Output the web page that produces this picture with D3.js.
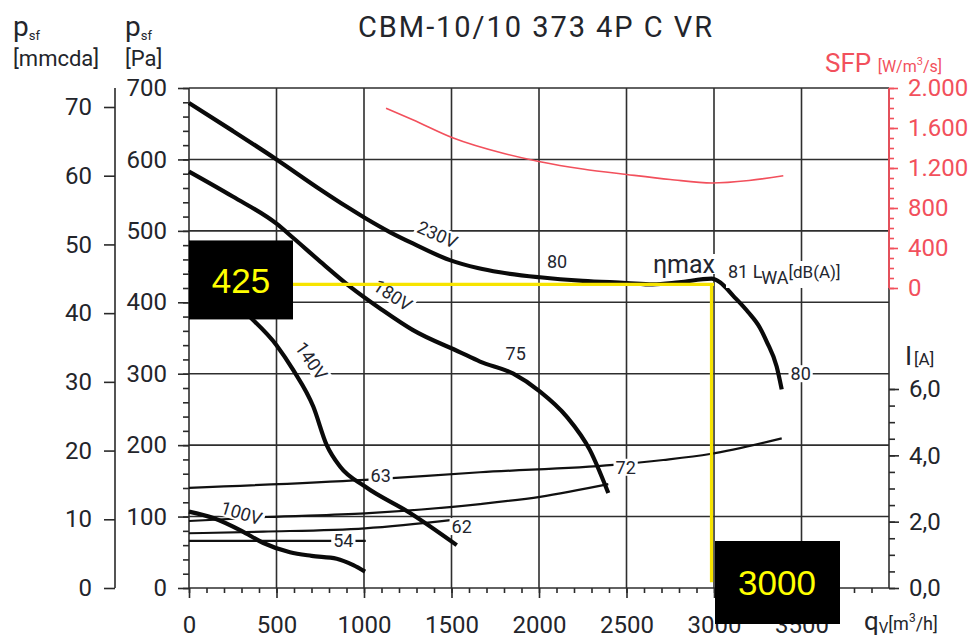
<!DOCTYPE html>
<html lang="en">
<head>
<meta charset="UTF-8">
<title>CBM-10/10 373 4P C VR</title>
<style>
* { margin: 0; padding: 0; }
body { background: #fff; overflow: hidden; }
svg { display: block; font-family: Roboto, "DejaVu Sans", sans-serif; }
.tick text { font-size: 24px; fill: #23252b; font-family: Roboto, sans-serif; }
.tick line { stroke: #2a2a2a; stroke-width: 1.6; }
.sfp-axis .tick line { stroke: #f2505c; }
.sfp-axis .tick text { fill: #f2505c; }
text.curve-label { font-size: 18px; fill: #23262f; }
</style>
</head>
<body>
<svg id="chart" width="974" height="639"></svg>
<script src="https://d3js.org/d3.v7.min.js"></script>
<script>
(function() {
	// tick values
	var qTicks = d3.range(0, 3501, 500);
	var paTicks = d3.range(0, 701, 100);
	var mmTicks = d3.range(0, 71, 10);
	var sfpTicks = [0, 400, 800, 1200, 1600, 2000];
	var ampTicks = [0, 2, 4, 6];

	// static pressure p_sf [Pa] against airflow q_v [m3/h], per supply voltage
	var press230 = [[0, 679], [250, 640], [500, 600], [750, 558], [900, 534], [1006, 518], [1150, 498], [1282, 482],
		[1491, 459], [1650, 448], [1777, 442], [2006, 435], [2250, 430], [2500, 427], [2650, 425], [2800, 428],
		[2986, 433], [3034, 428], [3110, 409], [3196, 386], [3263, 364], [3301, 345], [3358, 310], [3387, 278]];
	var press180 = [[0, 583], [250, 548], [500, 510], [596, 490], [750, 457], [920, 422], [1100, 390], [1280, 361],
		[1550, 330], [1663, 317], [1853, 300], [2006, 275], [2158, 240], [2291, 193], [2396, 133]];
	var press140 = [[0, 445], [200, 415], [330, 384], [500, 340], [596, 305], [710, 254], [787, 200], [863, 170],
		[1006, 142], [1263, 105], [1530, 60]];
	var press100 = [[0, 107], [139, 98], [300, 80], [425, 63], [577, 50], [700, 45], [844, 41], [939, 32], [1006, 23]];

	// current I [A]
	var amp230 = [[0, 3.02], [1006, 3.26], [1663, 3.49], [2425, 3.71], [2710, 3.86], [2977, 4.04], [3387, 4.51]];
	var amp180 = [[0, 2.02], [444, 2.14], [1006, 2.25], [1663, 2.53], [2006, 2.75], [2396, 3.13]];
	var amp140 = [[0, 1.65], [425, 1.70], [1006, 1.80], [1530, 2.07]];
	var amp100 = [[0, 1.42], [1010, 1.42]];

	// SFP [W/m3/s] at 230V
	var sfp230 = [[1126, 1797], [1282, 1680], [1510, 1500], [1800, 1345], [2006, 1263], [2250, 1190], [2501, 1135],
		[2750, 1085], [2990, 1050], [3200, 1075], [3396, 1122]];

	// curve labels (voltage and LwA) in chart units
	var curveLabels = [
		{ text: "230V", q: 1420, p: 495, angle: 24 },
		{ text: "180V", q: 1165, p: 410, angle: 33 },
		{ text: "140V", q: 700, p: 318, angle: 55 },
		{ text: "100V", q: 300, p: 105, angle: 17 },
		{ text: "80", q: 2103, p: 457, angle: 0 },
		{ text: "75", q: 1867, p: 328, angle: 0 },
		{ text: "72", q: 2495, p: 169, angle: 0 },
		{ text: "63", q: 1095, p: 157, angle: 0 },
		{ text: "62", q: 1558, p: 86, angle: 0 },
		{ text: "54", q: 882, p: 66, angle: 0 },
		{ text: "80", q: 3495, p: 300, angle: 0 }
	];

	// selected operating point
	var markQ = 3000;
	var markP = 425;

	var svg = d3.select("#chart");
	var x = d3.scaleLinear().domain([0, 4000]).range([189, 889]);
	var y = d3.scaleLinear().domain([0, 700]).range([588, 88]);
	var yMm = d3.scaleLinear().domain([0, 700 / 9.62]).range([588, 88]);
	var ySfp = d3.scaleLinear().domain([0, 2000]).range([288, 88]);
	var yAmp = d3.scaleLinear().domain([0, 6]).range([588, 389]);

	var loc = d3.formatLocale({ decimal: ",", thousands: ".", grouping: [3], currency: ["", ""] });
	var fmtSfp = loc.format(",d");
	var fmtAmp = loc.format(".1f");

	function cleanAxis(g) {
		g.select(".domain").remove();
		g.attr("font-size", null).attr("font-family", null);
	}

	// grid
	var grid = svg.append("g").attr("stroke", "#2e2e2e").attr("stroke-width", 1.6);
	grid.selectAll("line.h").data(paTicks).join("line").attr("class", "h")
		.attr("x1", x(0)).attr("x2", x(4000)).attr("y1", y).attr("y2", y);
	grid.selectAll("line.v").data(qTicks).join("line").attr("class", "v")
		.attr("x1", x).attr("x2", x).attr("y1", y(700)).attr("y2", y(0));
	grid.append("line").attr("x1", x(4000)).attr("x2", x(4000)).attr("y1", y(700)).attr("y2", y(0));

	// left Pa axis
	svg.append("g").attr("transform", "translate(" + x(0) + ",0)")
		.call(d3.axisLeft(y).tickValues(d3.range(0, 701, 20)).tickSize(6).tickFormat(""))
		.call(cleanAxis);
	svg.append("g").attr("transform", "translate(" + x(0) + ",0)")
		.call(d3.axisLeft(y).tickValues(paTicks).tickSize(11).tickPadding(11).tickFormat(d3.format("d")))
		.call(cleanAxis);

	// left mmcda axis
	var mmAxis = svg.append("g").attr("transform", "translate(115,0)")
		.call(d3.axisLeft(yMm).tickValues(mmTicks).tickSize(11).tickPadding(12))
		.call(cleanAxis);
	mmAxis.append("line").attr("y1", y(700)).attr("y2", y(0))
		.attr("stroke", "#2a2a2a").attr("stroke-width", 1.6);

	// bottom axis
	svg.append("g").attr("transform", "translate(0," + y(0) + ")")
		.call(d3.axisBottom(x).tickValues(d3.range(0, 4000, 100)).tickSize(5).tickFormat(""))
		.call(cleanAxis);
	svg.append("g").attr("transform", "translate(0," + y(0) + ")")
		.call(d3.axisBottom(x).tickValues(qTicks).tickSize(10).tickPadding(18).tickFormat(d3.format("d")))
		.call(cleanAxis);

	// right SFP axis (red)
	svg.append("g").attr("class", "sfp-axis").attr("transform", "translate(" + x(4000) + ",0)")
		.call(d3.axisRight(ySfp).tickValues(d3.range(0, 2001, 100)).tickSize(5).tickFormat(""))
		.call(cleanAxis);
	var sfpAxis = svg.append("g").attr("class", "sfp-axis").attr("transform", "translate(" + x(4000) + ",0)")
		.call(d3.axisRight(ySfp).tickValues(sfpTicks).tickSize(9).tickPadding(10).tickFormat(fmtSfp))
		.call(cleanAxis);
	sfpAxis.append("line").attr("y1", ySfp(2000)).attr("y2", ySfp(0))
		.attr("stroke", "#f2505c").attr("stroke-width", 1.8);

	// right current axis
	svg.append("g").attr("transform", "translate(" + x(4000) + ",0)")
		.call(d3.axisRight(yAmp).tickValues(d3.range(0, 6.01, 0.5)).tickSize(6).tickFormat(""))
		.call(cleanAxis);
	svg.append("g").attr("transform", "translate(" + x(4000) + ",0)")
		.call(d3.axisRight(yAmp).tickValues(ampTicks).tickSize(10).tickPadding(10).tickFormat(fmtAmp))
		.call(cleanAxis);

	// curves
	var lineP = d3.line().x(function(d) { return x(d[0]); }).y(function(d) { return y(d[1]); })
		.curve(d3.curveMonotoneX);
	var lineA = d3.line().x(function(d) { return x(d[0]); }).y(function(d) { return yAmp(d[1]); })
		.curve(d3.curveMonotoneX);
	var lineS = d3.line().x(function(d) { return x(d[0]); }).y(function(d) { return ySfp(d[1]); })
		.curve(d3.curveMonotoneX);

	var curves = svg.append("g").attr("fill", "none").attr("stroke-linejoin", "round");
	[amp230, amp180, amp140, amp100].forEach(function(c) {
		curves.append("path").attr("d", lineA(c)).attr("stroke", "#111").attr("stroke-width", 2.2);
	});
	curves.append("path").attr("d", lineS(sfp230)).attr("stroke", "#f2505c").attr("stroke-width", 1.6);
	[press230, press180, press140, press100].forEach(function(c) {
		curves.append("path").attr("d", lineP(c)).attr("stroke", "#0a0a0a").attr("stroke-width", 4.2);
	});

	// labels with white halo box
	var labels = svg.append("g");
	function addLabel(d) {
		var g = labels.append("g")
			.attr("transform", "translate(" + x(d.q) + "," + y(d.p) + ") rotate(" + d.angle + ")");
		var t = g.append("text").attr("class", "curve-label").attr("text-anchor", "middle")
			.attr("dy", "0.36em").text(d.text);
		var b = t.node().getBBox();
		g.insert("rect", "text").attr("x", b.x - 2).attr("y", b.y + 2).attr("width", b.width + 4)
			.attr("height", b.height - 4).attr("fill", "#fff");
	}
	curveLabels.forEach(addLabel);

	// eta max / sound power note
	var etaG = labels.append("g");
	var eta = etaG.append("text").attr("x", x(2651)).attr("y", y(441))
		.attr("font-size", 25).attr("fill", "#23262f").text("\u03b7max");
	var eb = eta.node().getBBox();
	etaG.insert("rect", "text").attr("x", eb.x - 1).attr("y", eb.y + 4).attr("width", eb.width + 2)
		.attr("height", eb.height - 9).attr("fill", "#fff");
	var lwaG = labels.append("g");
	var lwa = lwaG.append("text").attr("x", x(3080)).attr("y", y(434)).attr("fill", "#23262f").attr("font-size", 18);
	lwa.append("tspan").text("81 L");
	lwa.append("tspan").attr("dy", 6).text("WA");
	lwa.append("tspan").attr("dy", -6).attr("font-size", 17).text("[dB(A)]");
	var lb = lwa.node().getBBox();
	lwaG.insert("rect", "text").attr("x", lb.x - 2).attr("y", lb.y).attr("width", lb.width + 4)
		.attr("height", lb.height).attr("fill", "#fff");

	// axis titles
	var txt = svg.append("g").attr("fill", "#23252b");
	txt.append("text").attr("x", 535).attr("y", 37).attr("text-anchor", "middle").attr("font-size", 29)
		.attr("textLength", 354).attr("lengthAdjust", "spacing").text("CBM-10/10 373 4P C VR");

	[13, 125].forEach(function(px) {
		var p = txt.append("text").attr("x", px).attr("y", 36).attr("font-size", 28);
		p.append("tspan").text("p");
		p.append("tspan").attr("font-size", 13).attr("dy", 4).text("sf");
	});
	txt.append("text").attr("x", 13).attr("y", 66).attr("font-size", 22).text("[mmcda]");
	txt.append("text").attr("x", 125).attr("y", 66).attr("font-size", 22).text("[Pa]");

	var sfpT = svg.append("text").attr("x", 825).attr("y", 72).attr("fill", "#f2505c").attr("font-size", 26);
	sfpT.append("tspan").text("SFP ");
	sfpT.append("tspan").attr("font-size", 16).text("[W/m");
	sfpT.append("tspan").attr("font-size", 11).attr("dy", -7).text("3");
	sfpT.append("tspan").attr("font-size", 16).attr("dy", 7).text("/s]");

	var iT = txt.append("text").attr("x", 905).attr("y", 365).attr("font-size", 26);
	iT.append("tspan").text("I");
	iT.append("tspan").attr("font-size", 17).attr("dx", 2).text("[A]");

	var qT = txt.append("text").attr("x", 864).attr("y", 630).attr("font-size", 26);
	qT.append("tspan").text("q");
	qT.append("tspan").attr("font-size", 15).attr("dy", 3).text("V");
	qT.append("tspan").attr("font-size", 18).attr("dy", -3).text("[m");
	qT.append("tspan").attr("font-size", 12).attr("dy", -8).text("3");
	qT.append("tspan").attr("font-size", 18).attr("dy", 8).text("/h]");

	// operating point marker
	var mark = svg.append("g").attr("stroke", "#f7e400").attr("stroke-width", 3.2);
	mark.append("line").attr("x1", x(0)).attr("x2", x(markQ)).attr("y1", y(markP)).attr("y2", y(markP));
	mark.append("line").attr("x1", x(markQ) - 2.5).attr("x2", x(markQ) - 2.5).attr("y1", y(markP)).attr("y2", y(8));

	var boxes = svg.append("g").attr("font-family", "'Liberation Sans', Arial, sans-serif").attr("font-size", 35);
	boxes.append("rect").attr("x", x(0)).attr("y", y(markP) - 44).attr("width", 104).attr("height", 79).attr("fill", "#000");
	boxes.append("text").attr("x", x(0) + 52).attr("y", y(markP) + 9).attr("text-anchor", "middle")
		.attr("fill", "#ffff00").text(markP);
	boxes.append("rect").attr("x", x(markQ) + 1).attr("y", 541).attr("width", 125).attr("height", 83).attr("fill", "#000");
	boxes.append("text").attr("x", x(markQ) + 63).attr("y", 595).attr("text-anchor", "middle")
		.attr("fill", "#ffff00").text(markQ);
})();
</script>
</body>
</html>
